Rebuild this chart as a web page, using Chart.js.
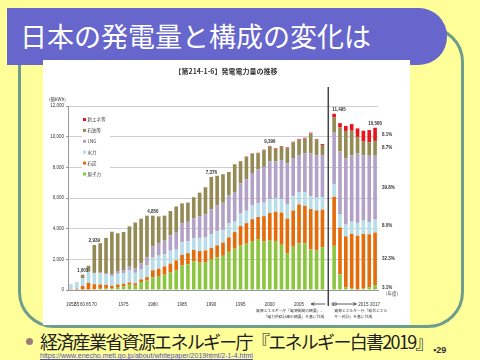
<!DOCTYPE html>
<html>
<head>
<meta charset="utf-8">
<script src="https://cdn.jsdelivr.net/npm/chart.js@4.4.1/dist/chart.umd.min.js"></script>
<style>
html,body{margin:0;padding:0}
body{width:480px;height:360px;background:#ffff99;position:relative;overflow:hidden;font-family:'Noto Sans CJK JP',sans-serif}
#frame{position:absolute;left:18px;top:26px;width:440px;height:296px;border:3px solid #6e9d8d;border-radius:36px}
#title{position:absolute;left:7px;top:8px;width:440px;height:57px;background:#6666cc;border-radius:0 28px 28px 0;color:#fff;font-size:27px;line-height:56px;padding-left:13px;box-sizing:border-box;white-space:nowrap}
#box{position:absolute;left:43px;top:60px;width:367px;height:265px;background:#fff}
#dot{position:absolute;left:26px;top:338px;width:7px;height:7px;border-radius:50%;background:#a07a7a}
#src{position:absolute;left:40px;top:329px;font-size:18px;line-height:24px;letter-spacing:-1.7px;color:#222;white-space:nowrap}
#url{position:absolute;left:40px;top:352px;font-family:'Liberation Sans',sans-serif;font-size:7px;color:#5050b0;text-decoration:underline;white-space:nowrap}
#page{position:absolute;left:433px;top:345px;font-family:'Liberation Sans',sans-serif;font-size:9px;font-weight:bold;color:#333}
</style>
</head>
<body>
<div id="frame"></div>
<div id="title">日本の発電量と構成の変化は</div>
<div id="box"><canvas id="c" width="367" height="265"></canvas></div>
<div id="dot"></div>
<div id="src">経済産業省資源エネルギー庁『エネルギー白書2019』</div>
<div id="url">https://www.enecho.meti.go.jp/about/whitepaper/2019html/2-1-4.html</div>
<div id="page">▪29</div>
<script>
// fiscal years (1952-1965 sparse, then yearly)
const years = [1952,1955,1960,1965,
  1970,1971,1972,1973,1974,1975,1976,1977,1978,1979,
  1980,1981,1982,1983,1984,1985,1986,1987,1988,1989,
  1990,1991,1992,1993,1994,1995,1996,1997,1998,1999,
  2000,2001,2002,2003,2004,2005,2006,2007,2008,2009,
  2010,2011,2012,2013,2014,2015,2016,2017];

// 億kWh
const nuclear = [0,0,0,0,
  46,80,90,95,190,250,340,280,520,620,
  820,870,1000,1140,1280,1590,1680,1880,1780,1820,
  2020,2130,2230,2490,2690,2910,3020,3190,3320,3165,
  3219,3198,2949,2403,2824,3048,3034,2638,2581,2798,
  2882,1018,159,93,0,94,181,329];
const coal = [50,80,262,470,
  330,280,240,180,170,150,150,160,170,220,
  470,520,540,580,650,700,720,730,760,760,
  720,780,860,940,1090,1260,1340,1430,1440,1650,
  1800,1900,2100,2250,2360,2530,2460,2640,2610,2440,
  3199,3056,3340,3570,3540,3560,3450,3417];
const hydro = [310,400,505,720,
  700,720,700,640,700,700,780,680,640,760,
  820,850,780,840,700,820,780,770,860,850,
  880,920,830,940,680,820,810,890,920,880,
  900,880,870,960,950,810,900,820,830,830,
  838,849,765,793,835,871,795,846];
const lng = [0,0,0,0,
  40,50,80,120,180,200,250,300,400,560,
  740,830,900,1000,1150,1250,1270,1310,1400,1500,
  1640,1700,1770,1820,1930,1970,2060,2120,2180,2330,
  2470,2400,2560,2640,2470,2420,2530,2820,2760,2740,
  3339,4113,4320,4320,4550,4250,4330,4211];
const oil = [15,20,234,390,
  1823,1920,2290,2765,2460,2480,2630,2980,2920,2690,
  2000,1730,1630,1590,1670,1290,1250,1360,1550,1770,
  2116,1920,1860,1510,1810,1410,1440,1240,1060,1095,
  967,822,871,1002,1021,972,956,1287,994,652,
  1017,1563,1790,1610,1062,904,874,920];
const newEnergy = [0,0,0,0,
  0,0,0,0,0,0,0,0,0,0,
  0,0,0,0,0,0,0,0,0,0,
  0,0,0,0,0,30,30,30,30,30,
  40,40,40,45,45,50,50,55,55,60,
  220,281,326,434,553,711,800,857];

const seriesNames  = ['原子力','石炭','水力','LNG','石油等','新エネ等'];
const seriesColors = ['#8cc63e','#e46c0a','#b7dde8','#b3a2c7','#948a54','#e8141c'];

const tickYears = [1952,1955,1960,1965,1970,1975,1980,1985,1990,1995,2000,2005,2010,2015,2017];
const tickTexts = ['1952','55','60','65','70','1975','1980','1985','1990','1995','2000','2005','10','2015','2017'];
const totalLabelYears = [1960,1970,1980,1990,2000,2010,2017];

const chartTitle = '【第214-1-6】発電電力量の推移';
const unitText = '(億kWh)';
const yearUnit = '(年度)';
const srcLeft = ['資源エネルギー庁「電源開発の概要」、','「電力供給計画の概要」を基に作成'];
const srcRight = ['資源エネルギー庁「総合エネル','ギー統計」を基に作成'];

// empty slot between 2009 and 2010 where the divider goes
const gapAt = years.indexOf(2010);
const withGap = a => [...a.slice(0,gapAt), null, ...a.slice(gapAt)];
const labels = withGap(years).map(v => v===null ? '' : String(v));
const allSeries = [nuclear, coal, hydro, lng, oil, newEnergy];

const FONT = "'Liberation Sans','Noto Sans CJK JP',sans-serif";
const JFONT = "'Noto Sans CJK JP',sans-serif";

const decor = {
  id:'decor',
  afterDraw(chart){
    const {ctx, scales:{x,y}} = chart;
    ctx.save();
    ctx.fillStyle='#333';
    ctx.textBaseline='middle';

    // chart title + unit
    ctx.font='bold 7px '+JFONT; ctx.textAlign='center';
    ctx.fillText(chartTitle, 183, 11);
    ctx.font='4.5px '+JFONT; ctx.textAlign='left';
    ctx.fillText(unitText, 6, 39);

    // legend (white box interrupts gridlines)
    ctx.fillStyle='#fff';
    ctx.fillRect(39, 54, 28, 66);
    for(let i=0;i<seriesNames.length;i++){
      const k = seriesNames.length-1-i;
      const ly = 59.5 + i*10.9;
      ctx.fillStyle=seriesColors[k];
      ctx.fillRect(40, ly-1.5, 3, 3);
      ctx.fillStyle='#333';
      ctx.font='4.5px '+JFONT;
      ctx.fillText(seriesNames[k], 44.5, ly);
    }

    // totals above selected bars
    ctx.font='bold 4.5px '+FONT;
    ctx.textBaseline='bottom';
    totalLabelYears.forEach(yr=>{
      const i = years.indexOf(yr);
      const tot = allSeries.reduce((s,a)=>s+a[i],0);
      const idx = labels.indexOf(String(yr));
      const px = x.getPixelForValue(idx);
      const py = y.getPixelForValue(tot) - 2;
      if(idx===gapAt+1){ ctx.textAlign='left'; ctx.fillText(tot.toLocaleString('en-US'), px-2, py); }
      else { ctx.textAlign='center'; ctx.fillText(tot.toLocaleString('en-US'), px, py); }
    });

    // shares of the last year at right
    const last = years.length-1;
    const tot = allSeries.reduce((s,a)=>s+a[last],0);
    let cum = 0;
    ctx.textAlign='left'; ctx.textBaseline='middle';
    allSeries.forEach(a=>{
      const v = a[last];
      const mid = y.getPixelForValue(cum + v/2);
      cum += v;
      ctx.fillText((v/tot*100).toFixed(1)+'%', x.right+4, mid);
    });
    ctx.font='4.5px '+JFONT;
    ctx.fillText(yearUnit, x.right+8, y.bottom+3);

    // divider between data sources
    const sx = x.getPixelForValue(gapAt);
    ctx.strokeStyle='#444'; ctx.lineWidth=1.5;
    ctx.beginPath(); ctx.moveTo(sx, 27); ctx.lineTo(sx, 246); ctx.stroke();

    // arrows
    const ay = 244;
    ctx.lineWidth=0.8; ctx.strokeStyle='#333';
    ctx.beginPath(); ctx.moveTo(sx-3, ay); ctx.lineTo(sx-17, ay);
    ctx.moveTo(sx-17, ay); ctx.lineTo(sx-14, ay-1.5); ctx.moveTo(sx-17, ay); ctx.lineTo(sx-14, ay+1.5);
    ctx.moveTo(sx+3, ay); ctx.lineTo(sx+28, ay);
    ctx.moveTo(sx+28, ay); ctx.lineTo(sx+25, ay-1.5); ctx.moveTo(sx+28, ay); ctx.lineTo(sx+25, ay+1.5);
    ctx.stroke();

    // sources under chart
    ctx.font='3.8px '+JFONT; ctx.fillStyle='#333';
    ctx.textAlign='right';
    srcLeft.forEach((t,i)=>ctx.fillText(t, sx-4, 251+i*6));
    ctx.textAlign='left';
    srcRight.forEach((t,i)=>ctx.fillText(t, sx+6, 251+i*6));
    ctx.restore();
  }
};

new Chart(document.getElementById('c'), {
  type:'bar',
  data:{
    labels,
    datasets: allSeries.map((a,k)=>({
      label: seriesNames[k],
      data: withGap(a),
      backgroundColor: seriesColors[k],
      borderWidth:0,
      barPercentage:0.62,
      categoryPercentage:1.0
    }))
  },
  options:{
    responsive:false,
    animation:false,
    devicePixelRatio:1,
    layout:{padding:{left:0,right:32,top:46,bottom:0}},
    plugins:{legend:{display:false}, tooltip:{enabled:false}},
    scales:{
      x:{
        stacked:true,
        grid:{display:false},
        border:{color:'#999'},
        ticks:{
          autoSkip:false, maxRotation:0, minRotation:0, padding:4,
          color:'#333', font:{size:4.5, family:FONT},
          callback:(v,i)=>{ const k = tickYears.indexOf(Number(labels[i])); return (labels[i]!=='' && k>=0) ? tickTexts[k] : ''; }
        },
        afterFit(s){ s.height = 35; }
      },
      y:{
        stacked:true, min:0, max:12000,
        grid:{color:'#cfcfcf', tickLength:2, tickColor:'#999'},
        border:{color:'#999'},
        ticks:{stepSize:2000, padding:2, color:'#333', font:{size:4.5, family:FONT},
          callback:v=>v.toLocaleString('en-US')},
        afterFit(s){ s.width = 25; }
      }
    }
  },
  plugins:[decor]
});
</script>
</body>
</html>
